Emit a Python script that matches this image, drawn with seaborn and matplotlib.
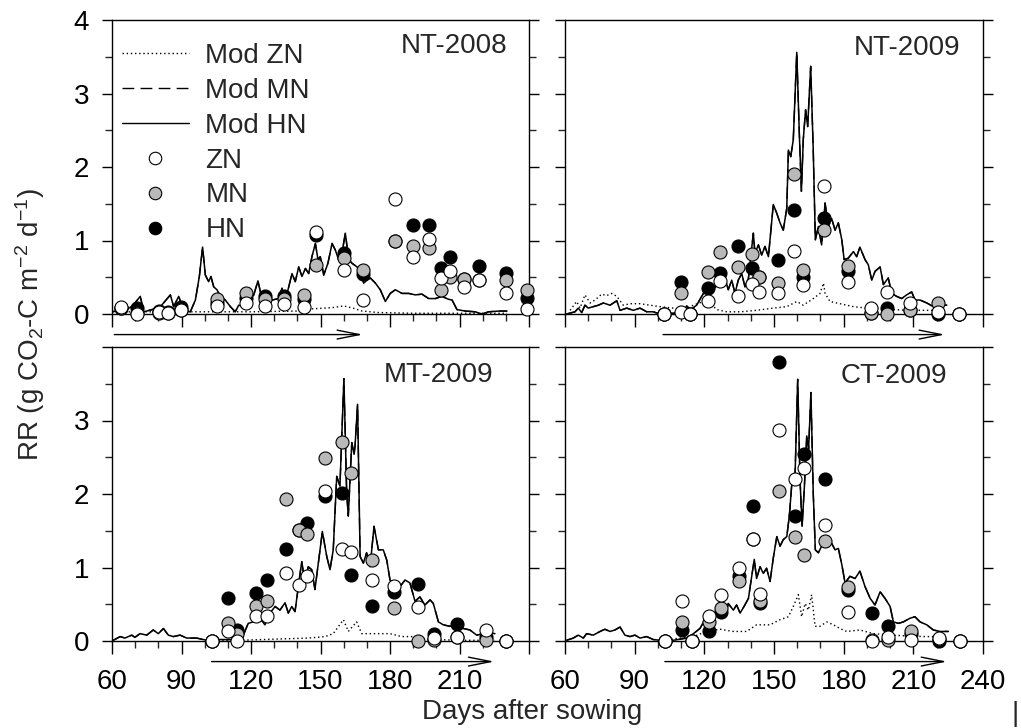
import matplotlib
matplotlib.use("Agg")
import matplotlib.pyplot as plt
import seaborn as sns
from matplotlib.lines import Line2D
from matplotlib.ticker import MultipleLocator

sns.set_style("ticks")
plt.rcParams["font.family"] = ["Liberation Sans", "DejaVu Sans"]
plt.rcParams["mathtext.fontset"] = "custom"
plt.rcParams["mathtext.rm"] = "Liberation Sans"
plt.rcParams["mathtext.it"] = "Liberation Sans:italic"
plt.rcParams["mathtext.bf"] = "Liberation Sans:bold"

# ---------------- observations ----------------
obs_days_nt08 = [64, 70.8, 80.1, 84.2, 89.9, 105.3, 118, 126.2, 134.1, 143, 148.2, 160.3,
                 168.2, 182, 190, 197, 202, 206, 212, 218.3, 230.2, 239.1]
obs_zn_nt08 = [0.10, 0.00, 0.03, 0.01, 0.05, 0.11, 0.15, 0.11, 0.13, 0.09, 1.12, 0.60,
               0.19, 1.56, 0.77, 1.02, 0.49, 0.58, 0.37, 0.46, 0.28, 0.07]
obs_mn_nt08 = [0.08, 0.02, 0.02, 0.02, 0.06, 0.20, 0.29, 0.20, 0.20, 0.26, 0.67, 0.76,
               0.60, 1.00, 0.92, 0.90, 0.33, 0.51, 0.47, 0.46, 0.46, 0.33]
obs_hn_nt08 = [0.08, 0.08, 0.04, 0.03, 0.09, 0.15, 0.22, 0.24, 0.24, 0.20, 1.08, 0.83,
               0.54, 1.00, 1.21, 1.21, 0.62, 0.78, 0.47, 0.65, 0.56, 0.22]

obs_days_nt09 = [102.8, 109.8, 113.8, 121.7, 126.8, 134.6, 140.7, 143.7, 151.6, 158.6,
                 162.6, 171.7, 181.7, 191.8, 198.5, 208.6, 220.5, 229.8]
obs_zn_nt09 = [0.00, 0.03, 0.00, 0.18, 0.45, 0.25, 0.41, 0.30, 0.28, 0.86, 0.39, 1.74,
               0.43, 0.08, 0.30, 0.15, 0.03, 0.00]
obs_mn_nt09 = [0.00, 0.28, 0.00, 0.57, 0.84, 0.64, 0.81, 0.50, 0.42, 1.91, 0.60, 1.14,
               0.65, 0.01, 0.00, 0.05, 0.15, 0.00]
obs_hn_nt09 = [0.00, 0.43, 0.00, 0.36, 0.56, 0.92, 0.63, 0.50, 0.73, 1.42, 0.50, 1.30,
               0.59, 0.02, 0.08, 0.05, 0.00, 0.00]

obs_days_mt09 = [103.0, 109.9, 113.8, 122.0, 127.0, 135.0, 140.9, 144.0, 152.0, 159.1,
                 163.2, 172.1, 181.9, 192.2, 199.1, 209.1, 221.3, 230.0]
obs_zn_mt09 = [0.00, 0.13, 0.00, 0.34, 0.34, 0.92, 0.76, 0.88, 2.04, 1.25, 1.21, 0.83,
               0.75, 0.46, 0.04, 0.06, 0.15, 0.00]
obs_mn_mt09 = [0.00, 0.24, 0.10, 0.47, 0.54, 1.93, 1.51, 1.45, 2.49, 2.71, 2.28, 1.10,
               0.45, 0.00, 0.01, 0.05, 0.01, 0.00]
obs_hn_mt09 = [0.00, 0.58, 0.15, 0.65, 0.83, 1.25, 1.51, 1.60, 1.97, 2.02, 0.90, 0.47,
               0.67, 0.77, 0.10, 0.23, 0.05, 0.00]

obs_days_ct09 = [103.1, 110.2, 114.5, 122.2, 127.2, 135.1, 141.1, 144.0, 152.2, 159.1,
                 163.1, 172.0, 182.0, 192.1, 199.0, 209.0, 221.1, 230.1]
obs_zn_ct09 = [0.00, 0.54, 0.00, 0.34, 0.62, 1.00, 1.39, 0.64, 2.87, 2.21, 2.36, 1.58,
               0.39, 0.00, 0.06, 0.01, 0.04, 0.00]
obs_mn_ct09 = [0.00, 0.26, 0.00, 0.26, 0.45, 0.82, 1.39, 0.55, 2.04, 1.42, 1.17, 1.36,
               0.73, 0.02, 0.01, 0.13, 0.03, 0.00]
obs_hn_ct09 = [0.00, 0.15, 0.00, 0.13, 0.39, 0.88, 1.83, 0.52, 3.80, 1.70, 2.54, 2.20,
               0.70, 0.38, 0.20, 0.10, 0.00, 0.00]

# ---------------- model lines ----------------
mod_days_nt08 = [60, 65.8, 68.6, 72.2, 73.7, 77.3, 80.9, 85.2, 86.6, 88.8, 90.9, 93.8, 96.0,
                 97.7, 99.1, 100.3, 101.7, 102.7, 103.9, 105.3, 106.8, 108.9, 111.1, 113.2,
                 114.7, 116.8, 119.0, 121.2, 123.0, 124.5, 126.2, 129.1, 131.9, 133.4, 134.5,
                 136.3, 137.7, 139.1, 140.6, 142.0, 143.5, 144.9, 146.3, 147.8, 148.9, 149.9,
                 151.4, 153.2, 155.0, 156.4, 157.8, 159.3, 160.7, 162.2, 163.6, 165.8, 167.2,
                 168.6, 170.1, 171.5, 173.7, 175.8, 178.0, 180.1, 182.3, 185.2, 188.1, 190.9,
                 193.8, 196.7, 199.6, 202.4, 205.3, 206.8, 208.9, 212.5, 216.8, 219.7, 222.6,
                 226.9, 230.5]
mod_hn_nt08 = [0.03, 0.06, 0.10, 0.24, 0.03, 0.06, 0.10, 0.26, 0.10, 0.24, 0.05, 0.03, 0.19,
               0.51, 0.91, 0.53, 0.44, 0.51, 0.37, 0.33, 0.24, 0.19, 0.10, 0.03, 0.12, 0.10,
               0.17, 0.26, 0.45, 0.24, 0.21, 0.19, 0.21, 0.35, 0.15, 0.37, 0.55, 0.44, 0.64,
               0.51, 0.62, 0.55, 0.78, 0.96, 0.74, 0.78, 0.53, 0.69, 0.96, 0.87, 0.74, 0.83,
               1.10, 0.74, 0.69, 0.64, 0.58, 0.42, 0.46, 0.49, 0.42, 0.33, 0.17, 0.28, 0.33,
               0.28, 0.28, 0.26, 0.27, 0.21, 0.21, 0.24, 0.20, 0.19, 0.06, 0.04, 0.03, 0.00,
               0.03, 0.04, 0.04]
mod_mn_nt08 = list(mod_hn_nt08)  # dashed MN line lies under the HN line in the figure
zn_days_nt08 = [60, 80, 100, 120, 140, 146, 152, 156, 160, 164, 168, 175, 190, 210, 230.5]
mod_zn_nt08 = [0.03, 0.03, 0.03, 0.03, 0.04, 0.07, 0.08, 0.09, 0.11, 0.08, 0.04, 0.02, 0.01,
               0.01, 0.01]

mod_days_nt09 = [60.7, 64.3, 65.7, 67.2, 68.6, 70.0, 72.2, 74.4, 76.5, 79.4, 82.3, 83.7, 86.6,
                 89.4, 92.3, 95.2, 98.0, 100.9, 106.7, 111.0, 112.4, 113.8, 116.7, 119.6,
                 121.7, 123.9, 126.0, 128.2, 128.9, 130.3, 131.8, 133.2, 134.6, 136.1, 137.5,
                 139.0, 141.1, 141.8, 143.3, 144.7, 146.1, 147.6, 149.7, 151.2, 152.6, 154.0,
                 155.5, 156.2, 157.2, 158.3, 159.8, 160.9, 161.8, 162.6, 163.6, 164.5, 165.8,
                 166.9, 167.8, 169.1, 170.5, 172.0, 173.4, 174.8, 176.3, 177.7, 179.2, 180.2,
                 182.0, 184.2, 185.6, 187.0, 189.2, 190.6, 192.1, 193.5, 195.7, 197.1, 199.2,
                 200.7, 202.8, 205.0, 207.1, 209.3, 210.7, 212.9, 215.8, 218.6, 221.5, 224.4]
mod_hn_nt09 = [0.00, 0.03, 0.08, 0.02, 0.12, 0.08, 0.10, 0.12, 0.15, 0.12, 0.18, 0.05, 0.08,
               0.05, 0.08, 0.03, 0.03, 0.00, 0.01, 0.03, 0.11, 0.05, 0.12, 0.28, 0.35, 0.33,
               0.42, 0.37, 0.49, 0.33, 0.46, 0.28, 0.46, 0.55, 0.37, 0.49, 1.10, 0.83, 0.94,
               0.80, 0.92, 0.78, 1.49, 1.37, 1.24, 1.14, 1.44, 2.23, 2.14, 2.37, 3.56, 2.46,
               1.67, 2.37, 2.78, 2.55, 3.37, 2.23, 1.01, 1.19, 0.94, 1.51, 1.19, 1.30, 1.14,
               1.24, 1.01, 0.74, 0.76, 0.85, 0.78, 0.91, 0.74, 0.67, 0.46, 0.58, 0.64, 0.40,
               0.49, 0.28, 0.24, 0.21, 0.26, 0.30, 0.19, 0.19, 0.15, 0.10, 0.12, 0.12]
mod_mn_nt09 = list(mod_hn_nt09)
zn_days_nt09 = [62.2, 65.0, 66.5, 68.6, 70.8, 72.9, 75.8, 77.9, 80.1, 82.3, 85.1, 88.0, 92.3,
                96.6, 100.9, 106.7, 111.0, 115.3, 119.6, 122.4, 125.3, 129.6, 135.4, 142.5,
                149.7, 155.5, 159.8, 162.6, 166.9, 169.8, 171.3, 172.0, 174.1, 178.4, 184.2,
                189.9, 195.7, 201.4, 207.1, 212.9, 218.6, 224.4]
mod_zn_nt09 = [0.05, 0.17, 0.08, 0.26, 0.15, 0.19, 0.27, 0.25, 0.28, 0.24, 0.12, 0.14, 0.14,
               0.12, 0.10, 0.08, 0.06, 0.12, 0.17, 0.15, 0.06, 0.03, 0.03, 0.05, 0.08, 0.10,
               0.17, 0.12, 0.21, 0.28, 0.42, 0.28, 0.17, 0.14, 0.10, 0.08, 0.08, 0.06, 0.05,
               0.05, 0.05, 0.03]

mod_days_mt09 = [60.6, 63.5, 65.6, 68.5, 69.9, 72.1, 75.0, 77.8, 80.0, 82.2, 84.3, 86.5, 89.4,
                 92.2, 96.5, 100.9, 106.6, 112.4, 116.7, 118.8, 121.0, 123.9, 126.0, 128.2,
                 130.4, 132.5, 134.7, 136.1, 137.6, 139.0, 141.2, 141.9, 143.3, 144.7, 146.2,
                 147.6, 149.8, 150.8, 152.7, 154.1, 155.5, 157.0, 158.4, 160.1, 161.3, 162.0,
                 163.5, 164.5, 164.9, 166.0, 167.1, 168.5, 169.9, 171.4, 173.1, 175.0, 177.1,
                 178.6, 180.0, 182.2, 184.3, 186.5, 188.6, 190.8, 192.9, 195.1, 197.3, 198.7,
                 200.9, 203.0, 205.9, 208.8, 211.7, 214.5, 217.4, 220.3, 223.2, 225.3]
mod_hn_mt09 = [0.01, 0.06, 0.04, 0.08, 0.05, 0.10, 0.08, 0.15, 0.10, 0.17, 0.08, 0.06, 0.08,
               0.04, 0.04, 0.01, 0.02, 0.02, 0.08, 0.24, 0.26, 0.31, 0.22, 0.38, 0.47, 0.42,
               0.52, 0.38, 0.47, 0.40, 0.92, 1.08, 0.79, 1.01, 0.97, 0.70, 1.24, 1.49, 1.15,
               0.97, 1.24, 2.24, 2.11, 3.57, 2.01, 1.70, 2.70, 2.54, 2.65, 3.22, 1.15, 1.06,
               1.20, 1.01, 1.56, 1.24, 1.24, 1.10, 0.83, 0.76, 0.74, 0.83, 0.79, 0.54, 0.60,
               0.49, 0.56, 0.51, 0.26, 0.22, 0.20, 0.22, 0.17, 0.15, 0.08, 0.10, 0.11, 0.10]
mod_mn_mt09 = list(mod_hn_mt09)
zn_days_mt09 = [104, 115, 125, 135, 145, 152, 155.5, 159.9, 162.0, 165.6, 167.8, 172, 180,
                185, 190, 195, 200, 210, 225]
mod_zn_mt09 = [0.01, 0.01, 0.02, 0.03, 0.04, 0.06, 0.10, 0.29, 0.13, 0.26, 0.10, 0.10, 0.10,
               0.06, 0.06, 0.03, 0.02, 0.01, 0.01]

mod_days_ct09 = [60.7, 63.6, 65.7, 67.9, 69.3, 72.2, 75.1, 77.2, 79.4, 81.5, 83.7, 85.8, 88.0,
                 90.1, 92.3, 95.2, 98.0, 100.9, 106.7, 112.4, 115.3, 118.1, 120.3, 122.4,
                 124.6, 126.8, 128.9, 130.3, 132.5, 133.9, 135.4, 137.1, 139.0, 140.4, 141.5,
                 142.5, 144.0, 145.4, 146.8, 148.3, 149.7, 151.2, 152.6, 154.0, 155.5, 156.6,
                 157.6, 159.1, 160.2, 161.2, 162.1, 163.1, 164.1, 164.9, 165.9, 166.9, 167.8,
                 169.1, 170.5, 172.0, 173.4, 174.8, 176.3, 177.7, 179.2, 180.6, 182.7, 184.9,
                 187.0, 189.2, 191.4, 193.5, 195.7, 197.8, 200.0, 201.4, 203.6, 205.7, 208.6,
                 210.7, 212.9, 215.8, 218.6, 221.5, 225.1]
mod_hn_ct09 = [0.01, 0.04, 0.08, 0.04, 0.10, 0.08, 0.13, 0.16, 0.13, 0.15, 0.19, 0.08, 0.06,
               0.08, 0.04, 0.06, 0.02, 0.01, 0.01, 0.04, 0.10, 0.17, 0.29, 0.24, 0.38, 0.42,
               0.33, 0.51, 0.42, 0.49, 0.38, 0.47, 0.58, 0.88, 1.11, 0.85, 1.01, 0.92, 0.99,
               0.81, 1.13, 1.42, 1.29, 1.38, 1.42, 1.70, 2.11, 2.29, 3.56, 2.20, 1.56, 2.11,
               2.79, 2.61, 3.38, 2.01, 1.24, 1.20, 1.29, 1.42, 1.29, 1.33, 1.24, 1.26, 1.04,
               0.79, 0.88, 0.85, 0.95, 0.74, 0.58, 0.49, 0.67, 0.58, 0.47, 0.26, 0.24, 0.26,
               0.31, 0.33, 0.26, 0.22, 0.15, 0.13, 0.13]
mod_mn_ct09 = list(mod_hn_ct09)
zn_days_ct09 = [104, 115.3, 121.0, 126.8, 132.5, 138.2, 142.5, 148.3, 152.6, 156.2, 158.3,
                160.5, 161.9, 163.4, 164.8, 166.2, 167.7, 169.8, 172.7, 175.6, 178.4, 181.3,
                187.0, 192.8, 200.0, 207.1, 214.3, 225.1]
mod_zn_ct09 = [0.02, 0.06, 0.13, 0.16, 0.13, 0.13, 0.22, 0.22, 0.29, 0.33, 0.47, 0.63, 0.33,
               0.51, 0.42, 0.63, 0.20, 0.20, 0.26, 0.22, 0.17, 0.13, 0.15, 0.10, 0.08, 0.07,
               0.06, 0.06]

titles = ["NT-2008", "NT-2009", "MT-2009", "CT-2009"]
arrow_days = [(61, 168.3), (102.2, 223.6), (103, 225), (103, 224.5)]

# ---------------- figure ----------------
W, H = 1021, 728
fig = plt.figure(figsize=(W / 100, H / 100), dpi=100)


def px_axes(left, top, right, bottom):
    return fig.add_axes([left / W, 1 - bottom / H, (right - left) / W, (bottom - top) / H])


axes = [px_axes(112, 20, 529, 314), px_axes(565, 20, 983, 314),
        px_axes(112, 347, 529, 641), px_axes(565, 347, 983, 641)]

panels = [
    (obs_days_nt08, obs_zn_nt08, obs_mn_nt08, obs_hn_nt08, mod_days_nt08, mod_hn_nt08,
     mod_mn_nt08, zn_days_nt08, mod_zn_nt08),
    (obs_days_nt09, obs_zn_nt09, obs_mn_nt09, obs_hn_nt09, mod_days_nt09, mod_hn_nt09,
     mod_mn_nt09, zn_days_nt09, mod_zn_nt09),
    (obs_days_mt09, obs_zn_mt09, obs_mn_mt09, obs_hn_mt09, mod_days_mt09, mod_hn_mt09,
     mod_mn_mt09, zn_days_mt09, mod_zn_mt09),
    (obs_days_ct09, obs_zn_ct09, obs_mn_ct09, obs_hn_ct09, mod_days_ct09, mod_hn_ct09,
     mod_mn_ct09, zn_days_ct09, mod_zn_ct09),
]

GRAY = "#b9b9b9"
DOT = (0, (1, 2))
DASH = (0, (8.5, 4.5))
FS = 20
MS = 88

title_pos = [(0.947, 0.955), (0.945, 0.950), (0.914, 0.950), (0.914, 0.947)]

for i, (ax, p) in enumerate(zip(axes, panels)):
    od, ozn, omn, ohn, md, mhn, mmn, zd, mzn = p
    sns.lineplot(x=zd, y=mzn, ax=ax, color="black", lw=1.0, linestyle=DOT,
                 estimator=None, sort=False, zorder=2)
    sns.lineplot(x=md, y=mmn, ax=ax, color="black", lw=1.0, linestyle=DASH,
                 estimator=None, sort=False, zorder=2)
    sns.lineplot(x=md, y=mhn, ax=ax, color="black", lw=1.1, linestyle="-",
                 estimator=None, sort=False, zorder=3)
    for vals, col, z in [(ohn, "black", 4), (omn, GRAY, 5), (ozn, "white", 6)]:
        sns.scatterplot(x=od, y=vals, ax=ax, color=col, edgecolor="black", s=MS,
                        linewidth=0.8, zorder=z, clip_on=False, legend=False)

    ax.set_xlim(60, 240)
    ax.set_ylim(0, 4)
    ax.set_xlabel("")
    ax.set_ylabel("")
    ax.xaxis.set_major_locator(MultipleLocator(30))
    ax.xaxis.set_minor_locator(MultipleLocator(10))
    ax.yaxis.set_major_locator(MultipleLocator(1))
    ax.yaxis.set_minor_locator(MultipleLocator(0.5))
    for s in ax.spines.values():
        s.set_linewidth(1.0)
        s.set_color("black")
        s.set_visible(True)
    ax.tick_params(axis="x", which="major", direction="out", length=9, width=1.0,
                   bottom=True, top=False, labelsize=FS, pad=11, colors="black")
    ax.tick_params(axis="x", which="minor", direction="out", length=5, width=1.0,
                   bottom=True, top=False)
    ax.tick_params(axis="y", which="major", direction="out", length=7.5, width=1.0,
                   left=True, right=True, labelsize=FS, pad=9, colors="black")
    ax.tick_params(axis="y", which="minor", direction="out", length=5, width=1.0,
                   left=True, right=True)

    if i in (0, 1):
        ax.tick_params(axis="x", labelbottom=False)
    if i in (1, 3):
        ax.tick_params(axis="y", labelleft=False)
    if i == 2:
        ax.set_xticks([60, 90, 120, 150, 180, 210, 240])
        ax.set_xticklabels(["60", "90", "120", "150", "180", "210", ""])
        ax.set_yticks([0, 1, 2, 3, 4])
        ax.set_yticklabels(["0", "1", "2", "3", ""])

    tx, ty = title_pos[i]
    ax.text(tx, ty, titles[i], transform=ax.transAxes, ha="right", va="top", fontsize=FS)

    a0, a1 = arrow_days[i]
    ax.annotate("", xy=(a1, -0.28), xytext=(a0, -0.28), xycoords="data",
                textcoords="data", annotation_clip=False,
                arrowprops=dict(arrowstyle="->,head_length=1.6,head_width=0.32",
                                lw=1.0, color="black", shrinkA=0, shrinkB=0,
                                mutation_scale=10))

# legend in first panel
handles = [
    Line2D([], [], color="black", lw=1.0, linestyle=DOT),
    Line2D([], [], color="black", lw=1.0, linestyle=DASH),
    Line2D([], [], color="black", lw=1.0, linestyle="-"),
    Line2D([], [], marker="o", ls="none", markerfacecolor="white", markeredgecolor="black",
           markersize=9, markeredgewidth=0.8),
    Line2D([], [], marker="o", ls="none", markerfacecolor=GRAY, markeredgecolor="black",
           markersize=9, markeredgewidth=0.8),
    Line2D([], [], marker="o", ls="none", markerfacecolor="black", markeredgecolor="black",
           markersize=9, markeredgewidth=0.8),
]
labels = ["Mod ZN", "Mod MN", "Mod HN", "ZN", "MN", "HN"]
axes[0].legend(handles, labels, loc="upper left", bbox_to_anchor=(0.024, 0.922),
               frameon=False, borderaxespad=0, borderpad=0, handlelength=2.4,
               handletextpad=0.6, labelspacing=0.32, fontsize=FS)

fig.text(30 / W, 1 - 325 / H, r"RR (g CO$_2$-C m$^{-2}$ d$^{-1}$)", rotation=90,
         ha="center", va="center", fontsize=FS)
fig.text(532 / W, 1 - 712 / H, "Days after sowing", ha="center", va="center", fontsize=FS)
fig.text(1015 / W, 1 - 714 / H, "|", ha="center", va="center", fontsize=20)

fig.savefig("out.png", dpi=100)
